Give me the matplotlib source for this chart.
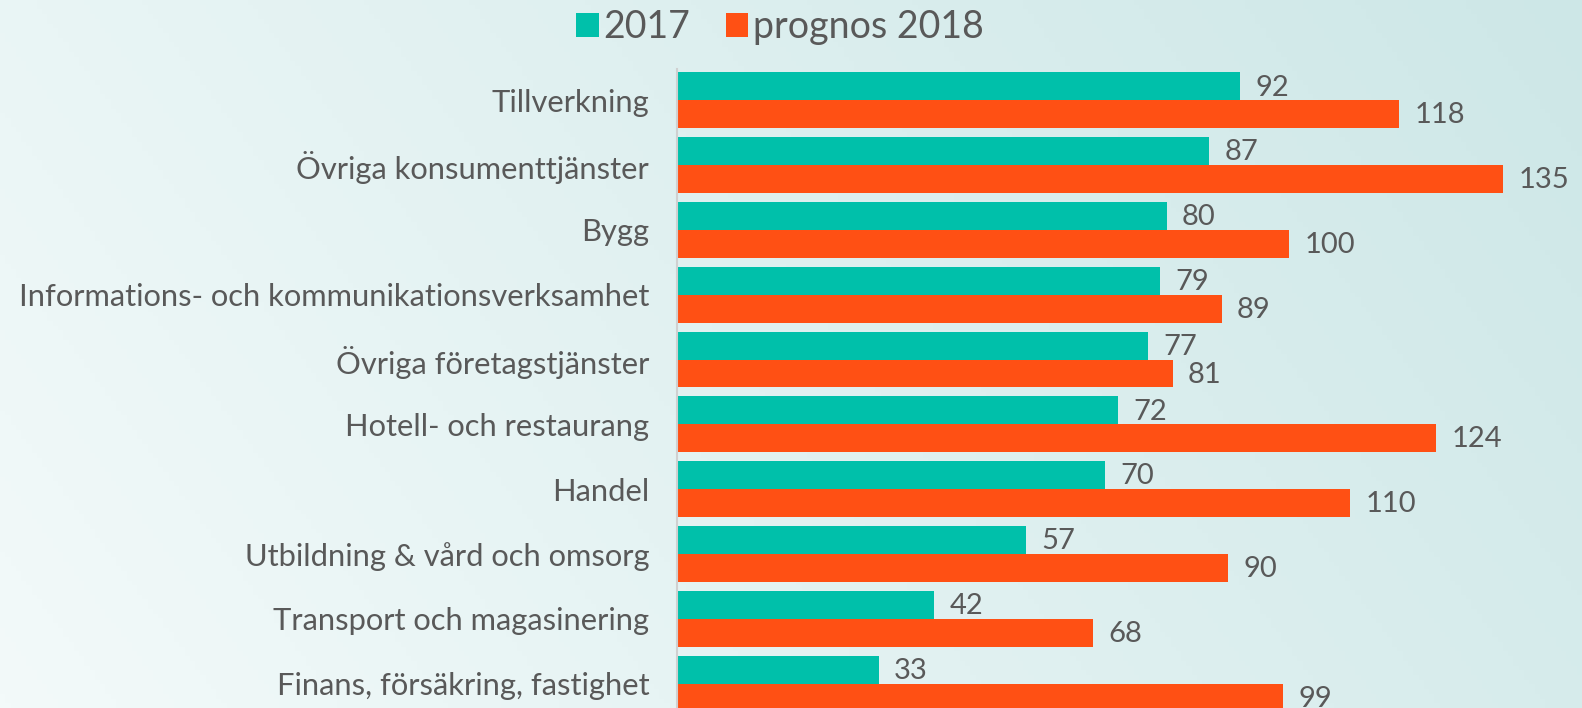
import numpy as np
import matplotlib
matplotlib.use('Agg')
import matplotlib.pyplot as plt
from matplotlib.colors import LinearSegmentedColormap

kategorier = ['Tillverkning', 'Övriga konsumenttjänster', 'Bygg',
              'Informations- och kommunikationsverksamhet', 'Övriga företagstjänster',
              'Hotell- och restaurang', 'Handel', 'Utbildning & vård och omsorg',
              'Transport och magasinering', 'Finans, försäkring, fastighet']
v2017 = [92, 87, 80, 79, 77, 72, 70, 57, 42, 33]
v2018 = [118, 135, 100, 89, 81, 124, 110, 90, 68, 99]
serier = ['2017', 'prognos 2018']

TEAL = '#00C0AA'
ORANGE = '#FF5014'
GRA = '#595959'

plt.rcParams['font.family'] = ['Lato', 'DejaVu Sans']

W, H = 1582, 708
fig = plt.figure(figsize=(W/100, H/100), dpi=100)

# bakgrund med diagonal gradient
bg = fig.add_axes([0, 0, 1, 1])
xx, yy = np.meshgrid(np.linspace(0, 1, 300), np.linspace(0, 1, 150))
grad = (xx*0.75 + (1-yy)*0.25)
cmap = LinearSegmentedColormap.from_list('bg', ['#F3FAFA', '#CDE7E7'])
bg.imshow(grad, cmap=cmap, aspect='auto', extent=[0, 1, 0, 1], origin='upper')
bg.axis('off')

x0 = 677/W
top = 1 - 68.6/H
ax = fig.add_axes([x0, 0, 1-x0, top])
ax.patch.set_alpha(0)

y = np.arange(len(kategorier))
h = 0.43
b1 = ax.barh(y - h/2, v2017, height=h, color=TEAL, label=serier[0])
b2 = ax.barh(y + h/2, v2018, height=h, color=ORANGE, label=serier[1])

for i in range(len(kategorier)):
    ax.text(v2017[i] + 2.5, y[i] - h/2 - 0.02, str(v2017[i]), va='center_baseline', ha='left',
            fontsize=21, color=GRA)
    ax.text(v2018[i] + 2.5, y[i] + h/2 - 0.02, str(v2018[i]), va='center_baseline', ha='left',
            fontsize=21, color=GRA)

ax.set_xlim(0, (W-677)/6.12)
ax.set_ylim(-0.49 + 639.4/64.8, -0.49)
ax.set_yticks(y)
ax.set_yticklabels(kategorier, fontsize=22.2, color=GRA)
ax.tick_params(axis='y', length=0, pad=20)
ax.set_xticks([])
for s in ['top', 'right', 'bottom']:
    ax.spines[s].set_visible(False)
ax.spines['left'].set_color('#D0D0D0')
ax.spines['left'].set_linewidth(1.5)

fig.legend(handles=[b1, b2], labels=serier, loc='upper center', bbox_to_anchor=(0.493, 1.035),
           ncol=2, frameon=False, fontsize=27, labelcolor=GRA, handlelength=0.6,
           handleheight=0.6, handletextpad=0.12, columnspacing=0.95)

fig.savefig('out.png', dpi=100)
